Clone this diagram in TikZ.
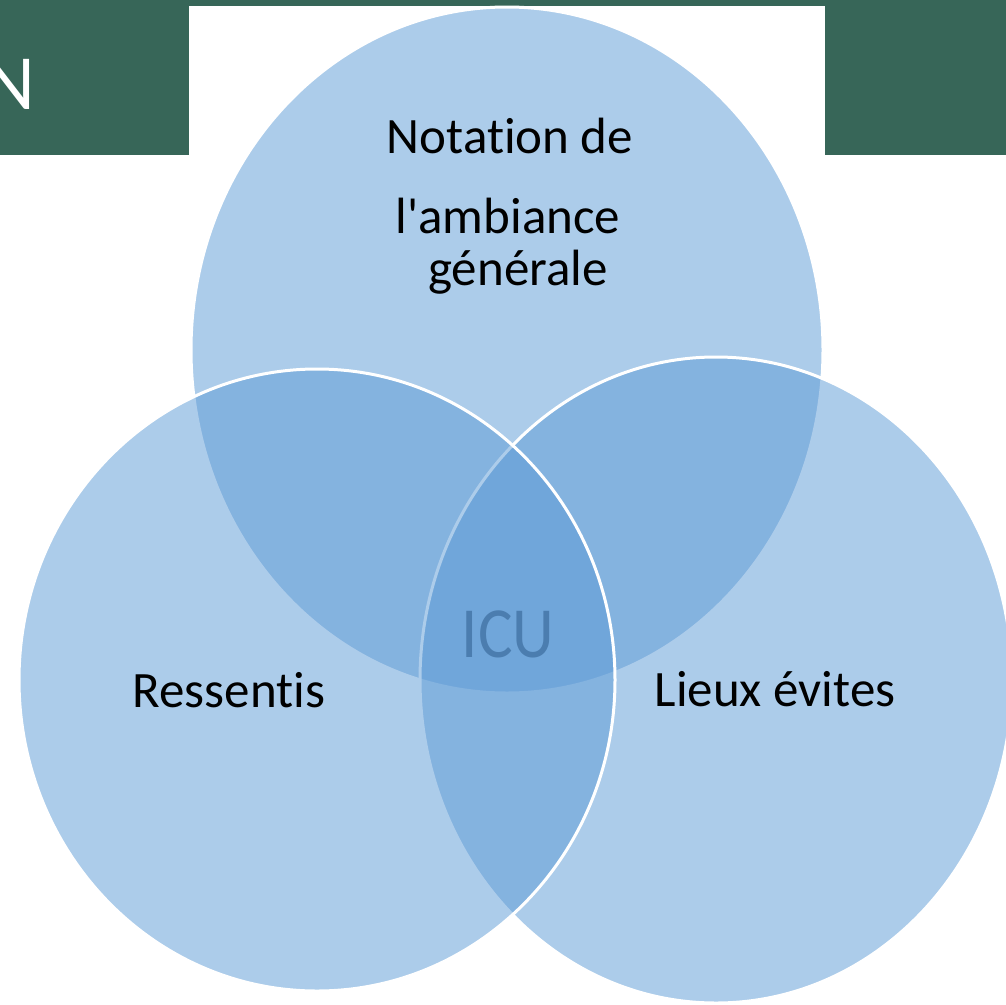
\documentclass[tikz,border=0pt]{standalone}
\usepackage{fontspec}
\setmainfont[Ligatures={TeXOff,NoCommon}]{Carlito}
\newfontfamily\titlefont{Lato}
\definecolor{bandgreen}{RGB}{55,102,88}
\definecolor{vennblue}{RGB}{94,155,214}
\definecolor{icutext}{RGB}{75,125,175}
\tikzset{
  venn/.style={fill=vennblue, fill opacity=0.51, draw=white, line width=3pt},
  lbl/.style={font=\fontsize{51}{60}\selectfont, text=black, inner sep=0pt, anchor=base}
}
\begin{document}
\begin{tikzpicture}[x=1pt,y=-1pt]
\useasboundingbox (0,0) rectangle (1006,1004);
\clip (0,0) rectangle (1006,1004);
\fill[white] (0,0) rectangle (1006,1004);
\fill[bandgreen] (0,0) rectangle (1006,155);
\fill[white] (189,6) rectangle (825,156);
\node[anchor=base east, inner sep=0pt, text=white, font=\titlefont\fontsize{70}{70}\selectfont] (title) at (36,109) {N};
% circles
\path[venn] (507,350) ellipse [x radius=316, y radius=343];
\path[venn] (716,680) ellipse [x radius=296, y radius=323];
\path[venn] (317,680) ellipse [x radius=298, y radius=311];
% labels
\node[lbl] (t1) at (510,153) {Notation de};
\node[lbl] (t2) at (508,233) {l'ambiance};
\node[lbl] (t3) at (518,285) {générale};
\node[lbl] (left) at (229,707) {Ressentis};
\node[lbl] (right) at (775,706) {Lieux évites};
\node[inner sep=0pt, anchor=base, text=icutext, font=\fontsize{72}{72}\selectfont] (icu) at (508,657) {\scalebox{0.9}[1]{ICU}};
\end{tikzpicture}
\end{document}
